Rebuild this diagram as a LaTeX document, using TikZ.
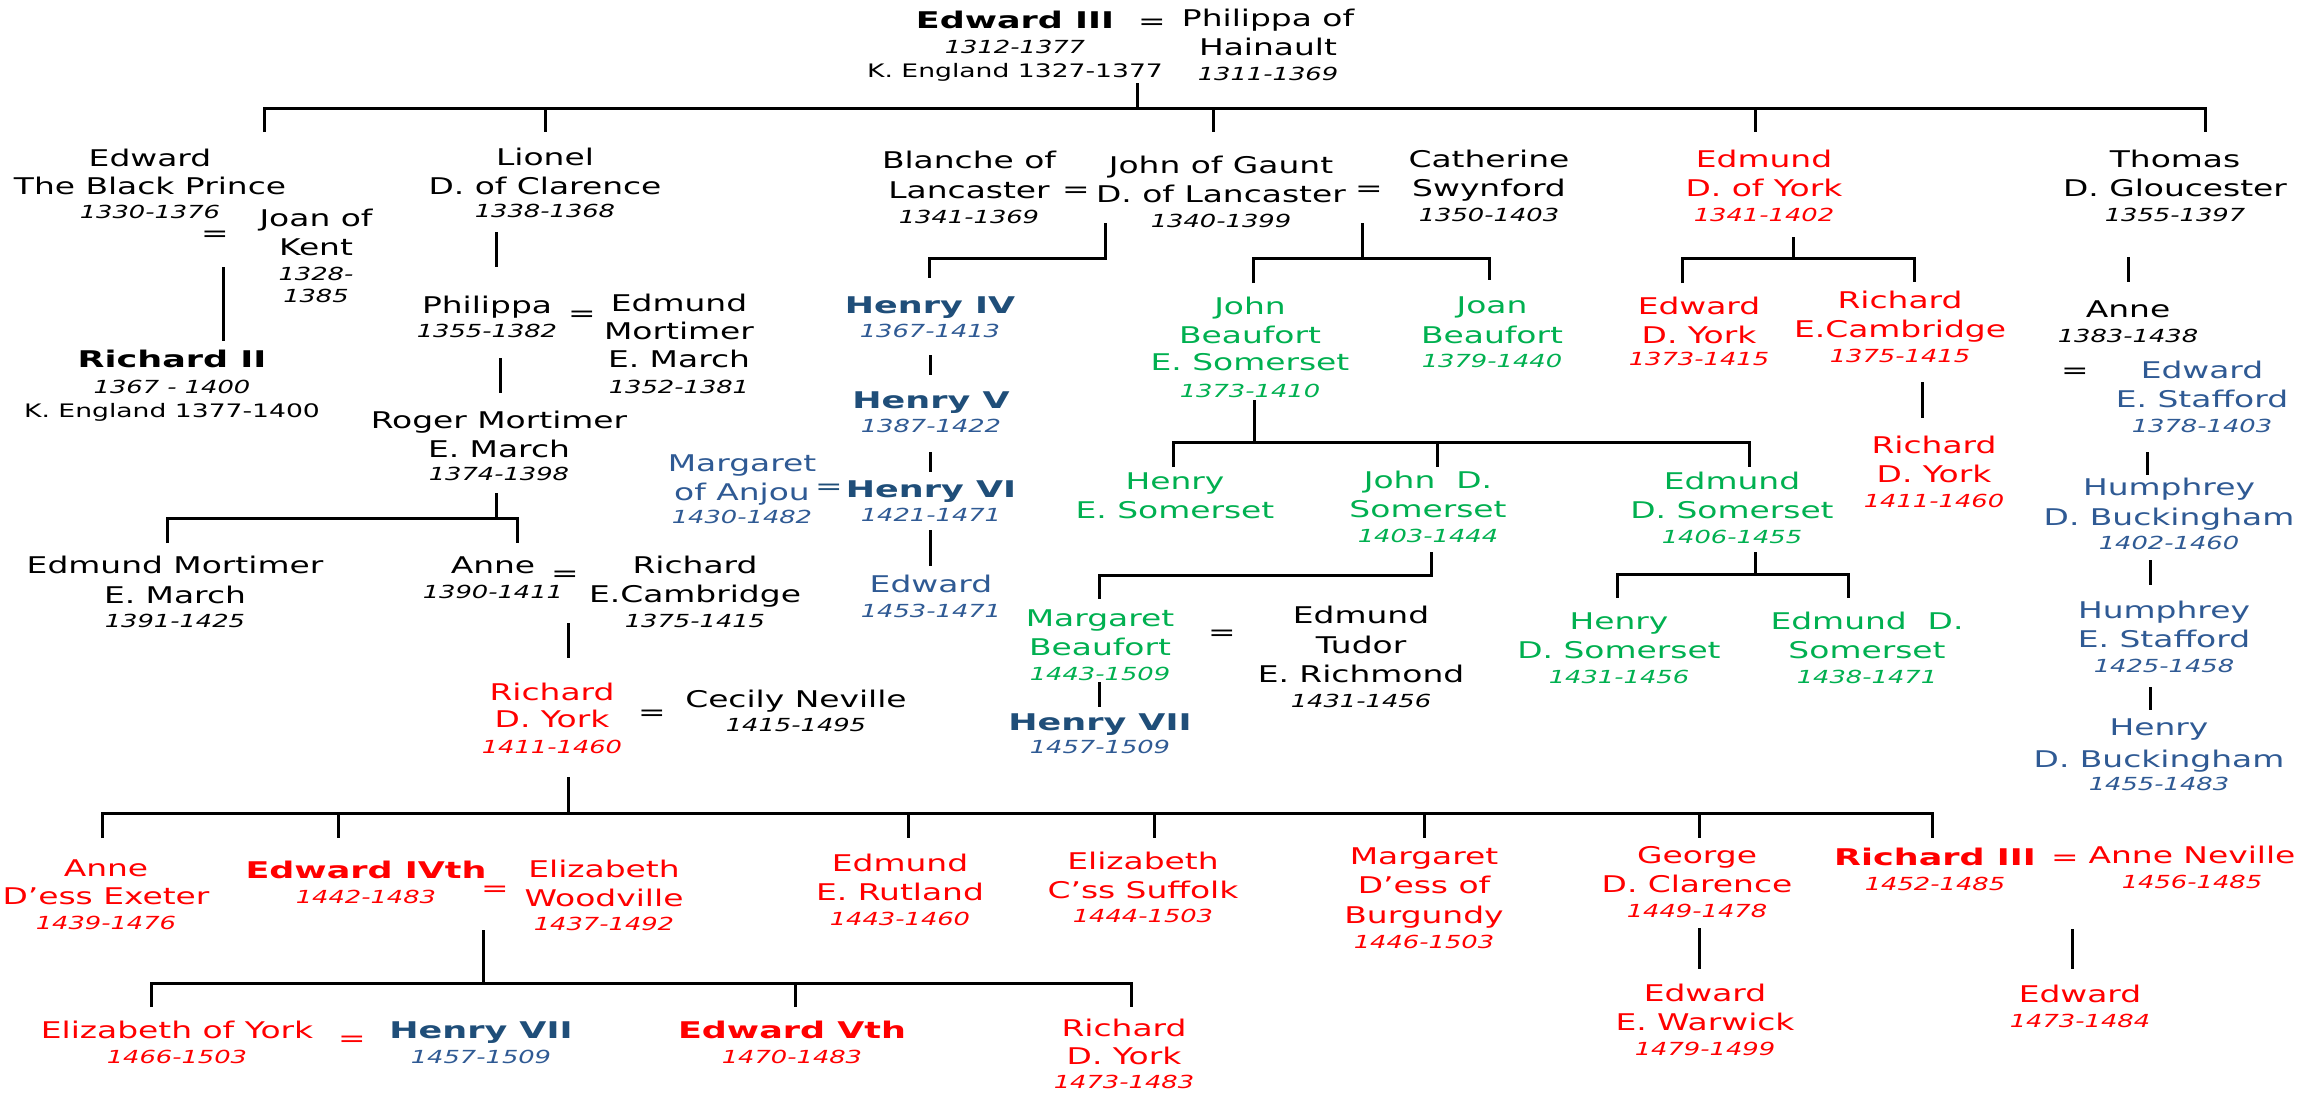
\documentclass[tikz,border=0pt]{standalone}
\usepackage{fontspec}
\setmainfont{DejaVu Sans}[FakeStretch=1.43, BoldFeatures={FakeStretch=1.52}, BoldItalicFeatures={FakeStretch=1.52}]
\definecolor{rd}{HTML}{FF0000}
\definecolor{gn}{HTML}{00B050}
\definecolor{bl}{HTML}{1F4E79}
\definecolor{bll}{HTML}{2F5A94}
\newcommand\yrs[1]{{\fontsize{18}{22}\selectfont\itshape #1}}
\newcommand\sml[1]{{\fontsize{18.6}{22}\selectfont #1}}
\begin{document}
\begin{tikzpicture}[x=1pt,y=-1pt,
  pp/.style={align=center, anchor=base, inner sep=0pt, font=\fontsize{23}{28.5}\selectfont},
  eqs/.style={anchor=base, inner sep=0pt, font=\fontsize{23}{28}\selectfont},
  tree/.style={line width=3pt, line join=miter, draw=black}]
\useasboundingbox (0,0) rectangle (2323,1095);
\fill[white] (0,0) rectangle (2323,1095);

% (node positions give the baseline of the LAST line of each node)
% ---------- generation 0
\node[pp] (e3) at (1015,77) {\textbf{Edward III}\\[-4pt]\yrs{1312-1377}\\[-4.5pt]\sml{K. England 1327-1377}};
\node[eqs] (eq1) at (1152,29) {=};
\node[pp] (phil) at (1268,80) {Philippa of\\Hainault\\[-3.5pt]\yrs{1311-1369}};

% ---------- generation 1
\node[pp] (bp) at (150,218) {Edward\\The Black Prince\\[-5pt]\yrs{1330-1376}};
\node[eqs] (eq2) at (215,241) {=};
\node[pp] (joan) at (316,302) {Joan of\\Kent\\[-3.5pt]\yrs{1328-}\\[-6.5pt]\yrs{1385}};
\node[pp] (r2) at (172,417) {\textbf{Richard II}\\[-2.5pt]\yrs{1367 - 1400}\\[-4.5pt]\sml{K. England 1377-1400}};

\node[pp] (lionel) at (545,217) {Lionel\\D. of Clarence\\[-5.5pt]\yrs{1338-1368}};
\node[pp] (philippa) at (487,337) {Philippa\\[-4.5pt]\yrs{1355-1382}};
\node[eqs] (eq3) at (582,321) {=};
\node[pp] (emort1) at (679,393) {Edmund\\Mortimer\\[-1pt]E. March\\[-2.5pt]\yrs{1352-1381}};
\node[pp] (roger) at (499,480) {Roger Mortimer\\[0.5pt]E. March\\[-5.5pt]\yrs{1374-1398}};
\node[pp] (emort2) at (175,627) {Edmund Mortimer\\[1.5pt]E. March\\[-4.5pt]\yrs{1391-1425}};
\node[pp] (anne1) at (493,598) {Anne\\[-3.5pt]\yrs{1390-1411}};
\node[eqs] (eq4) at (565,581) {=};
\node[pp] (rcam1) at (695,627) {Richard\\[0.5pt]E.Cambridge\\[-4pt]\yrs{1375-1415}};
\node[pp, text=rd] (rdy1) at (552,753) {Richard\\[-1.5pt]D. York\\[-2.5pt]\yrs{1411-1460}};
\node[eqs] (eq5) at (652,720) {=};
\node[pp] (cecily) at (796,731) {Cecily Neville\\[-4.5pt]\yrs{1415-1495}};

\node[pp, text=rd] (anne2) at (106,929) {Anne\\D’ess Exeter\\[-4pt]\yrs{1439-1476}};
\node[pp, text=rd] (e4) at (366,903) {\textbf{Edward IVth}\\[-3.5pt]\yrs{1442-1483}};
\node[eqs, text=rd] (eq6) at (495,896) {=};
\node[pp, text=rd] (ewood) at (604,930) {Elizabeth\\[0.5pt]Woodville\\[-5pt]\yrs{1437-1492}};
\node[pp, text=rd] (eyork) at (177,1063) {Elizabeth of York\\[-3.5pt]\yrs{1466-1503}};
\node[eqs, text=rd] (eq7) at (352,1046) {=};
\node[pp, text=bl] (h7b) at (481,1063) {\textbf{Henry VII}\\[-3.5pt]\color{bll}\yrs{1457-1509}};
\node[pp, text=rd] (e5) at (792,1063) {\textbf{Edward Vth}\\[-3.5pt]\yrs{1470-1483}};
\node[pp, text=rd] (rdy3) at (1124,1088) {Richard\\D. York\\[-5pt]\yrs{1473-1483}};
\node[pp, text=rd] (rutland) at (900,925) {Edmund\\E. Rutland\\[-3.5pt]\yrs{1443-1460}};
\node[pp, text=rd] (suffolk) at (1143,922) {Elizabeth\\C’ss Suffolk\\[-4.5pt]\yrs{1444-1503}};
\node[pp, text=rd] (burg) at (1424,948) {Margaret\\D’ess of\\[1.5pt]Burgundy\\[-3.5pt]\yrs{1446-1503}};
\node[pp, text=rd] (george) at (1697,917) {George\\D. Clarence\\[-3.5pt]\yrs{1449-1478}};
\node[pp, text=rd] (warwick) at (1705,1055) {Edward\\E. Warwick\\[-3.5pt]\yrs{1479-1499}};
\node[pp, text=rd] (r3) at (1935,890) {\textbf{Richard III}\\[-3.5pt]\yrs{1452-1485}};
\node[eqs, text=rd] (eq8) at (2065,865) {=};
\node[pp, text=rd] (aneville) at (2192,888) {Anne Neville\\[-3.5pt]\yrs{1456-1485}};
\node[pp, text=rd] (edr3) at (2080,1027) {Edward\\[-3.5pt]\yrs{1473-1484}};

% ---------- Lancaster
\node[pp] (blanche) at (969,223) {Blanche of\\[1.5pt]Lancaster\\[-3.5pt]\yrs{1341-1369}};
\node[eqs] (eq9) at (1076,197) {=};
\node[pp] (gaunt) at (1221,227) {John of Gaunt\\[0.5pt]D. of Lancaster\\[-3.5pt]\yrs{1340-1399}};
\node[eqs] (eq10) at (1369,196) {=};
\node[pp] (cath) at (1489,221) {Catherine\\[0.5pt]Swynford\\[-3.5pt]\yrs{1350-1403}};
\node[pp, text=bl] (h4) at (930,337) {\textbf{Henry IV}\\[-4.5pt]\color{bll}\yrs{1367-1413}};
\node[pp, text=gn] (jb) at (1250,397) {John\\Beaufort\\[-1.5pt]E. Somerset\\[-1.5pt]\yrs{1373-1410}};
\node[pp, text=gn] (joanb) at (1492,367) {Joan\\[1.5pt]Beaufort\\[-4.5pt]\yrs{1379-1440}};
\node[pp, text=bl] (h5) at (931,432) {\textbf{Henry V}\\[-4.5pt]\color{bll}\yrs{1387-1422}};
\node[pp, text=bl] (h6) at (931,521) {\textbf{Henry VI}\\[-4.5pt]\color{bll}\yrs{1421-1471}};
\node[eqs, text=bl] (eq11) at (829,494) {=};
\node[pp, text=bll] (manjou) at (742,523) {Margaret\\of Anjou\\[-5.5pt]\yrs{1430-1482}};
\node[pp, text=bll] (edh6) at (931,617) {Edward\\[-3.5pt]\yrs{1453-1471}};
\node[pp, text=gn] (hes) at (1175,518) {Henry\\E. Somerset};
\node[pp, text=gn] (jds) at (1428,542) {John~~D.\\[0.5pt]Somerset\\[-3.5pt]\yrs{1403-1444}};
\node[pp, text=gn] (eds1) at (1732,543) {Edmund\\D. Somerset\\[-3.5pt]\yrs{1406-1455}};
\node[pp, text=gn] (mbeau) at (1100,680) {Margaret\\Beaufort\\[-3.5pt]\yrs{1443-1509}};
\node[eqs] (eq12) at (1222,640) {=};
\node[pp] (tudor) at (1361,707) {Edmund\\[1.5pt]Tudor\\[0.5pt]E. Richmond\\[-3.5pt]\yrs{1431-1456}};
\node[pp, text=bl] (h7a) at (1100,753) {\textbf{Henry VII}\\[-5.5pt]\color{bll}\yrs{1457-1509}};
\node[pp, text=gn] (hds) at (1619,683) {Henry\\D. Somerset\\[-3.5pt]\yrs{1431-1456}};
\node[pp, text=gn] (eds2) at (1867,683) {Edmund~~D.\\Somerset\\[-3.5pt]\yrs{1438-1471}};

% ---------- York
\node[pp, text=rd] (edyork) at (1764,221) {Edmund\\[0.5pt]D. of York\\[-3.5pt]\yrs{1341-1402}};
\node[pp, text=rd] (edy) at (1699,365) {Edward\\D. York\\[-6.5pt]\yrs{1373-1415}};
\node[pp, text=rd] (rcam2) at (1900,362) {Richard\\[0.5pt]E.Cambridge\\[-3.5pt]\yrs{1375-1415}};
\node[pp, text=rd] (rdy2) at (1934,507) {Richard\\[0.5pt]D. York\\[-3.5pt]\yrs{1411-1460}};

% ---------- Gloucester
\node[pp] (thomas) at (2175,221) {Thomas\\[0.5pt]D. Gloucester\\[-3.5pt]\yrs{1355-1397}};
\node[pp] (anne3) at (2128,342) {Anne\\[-3.5pt]\yrs{1383-1438}};
\node[eqs] (eq13) at (2075,378) {=};
\node[pp, text=bll] (estaff) at (2202,432) {Edward\\[0.5pt]E. Stafford\\[-3.5pt]\yrs{1378-1403}};
\node[pp, text=bll] (hbuck) at (2169,549) {Humphrey\\[1.5pt]D. Buckingham\\[-4.5pt]\yrs{1402-1460}};
\node[pp, text=bll] (hstaff) at (2164,672) {Humphrey\\[0.5pt]E. Stafford\\[-3.5pt]\yrs{1425-1458}};
\node[pp, text=bll] (henbuck) at (2159,790) {Henry\\[3.5pt]D. Buckingham\\[-5.5pt]\yrs{1455-1483}};

% ---------- connector coordinates
\foreach \n/\x/\y in {
  a1/1137/83, a2/1137/108, b1/264/132, b2/264/108, b3/2205/108, b4/2205/132,
  c1/545/108, c2/545/132, c3/1213/108, c4/1213/132, c5/1755/108, c6/1755/132,
  d1/223/267, d2/223/341, d3/496/232, d4/496/267, d5/500/358, d6/500/393,
  f1/496/493, f2/496/518, f3/167/543, f4/167/518, f5/517/518, f6/517/543,
  g1/568/623, g2/568/658, g3/568/777, g4/568/813,
  h1/102/838, h2/102/813, h3/1932/813, h4/1932/838,
  k1/338/813, k2/338/838, k3/908/813, k4/908/838, k5/1154/813, k6/1154/838,
  k7/1424/813, k8/1424/838, k9/1699/813, k10/1699/838,
  m1/483/930, m2/483/983, m3/151/1007, m4/151/983, m5/1131/983, m6/1131/1007,
  m7/795/983, m8/795/1007,
  n1/1699/928, n2/1699/969, n3/2072/929, n4/2072/969,
  p1/1105/223, p2/1105/258, p3/929/258, p4/929/278,
  q1/1362/223, q2/1362/258, q3/1253/283, q4/1253/258, q5/1489/258, q6/1489/280,
  s1/930/355, s2/930/375, s3/930/452, s4/930/472, s5/930/530, s6/930/566,
  u1/1254/400, u2/1254/442, u3/1173/467, u4/1173/442, u5/1749/442, u6/1749/467,
  u7/1437/442, u8/1437/467,
  v1/1431/552, v2/1431/575, v3/1099/575, v4/1099/599, v5/1099/682, v6/1099/707,
  w1/1755/552, w2/1755/574, w3/1617/598, w4/1617/574, w5/1848/574, w6/1848/598,
  y1/1793/237, y2/1793/258, y3/1682/283, y4/1682/258, y5/1914/258, y6/1914/282,
  y7/1922/382, y8/1922/418,
  z1/2128/257, z2/2128/282, z3/2147/452, z4/2147/475, z5/2150/560, z6/2150/585,
  z7/2150/687, z8/2150/710}
  {\coordinate (\n) at (\x,\y);}

\draw[tree] (a1) -- (a2);
\draw[tree] (b1) -- (b2) -- (b3) -- (b4);
\draw[tree] (c1) -- (c2);
\draw[tree] (c3) -- (c4);
\draw[tree] (c5) -- (c6);
\draw[tree] (d1) -- (d2);
\draw[tree] (d3) -- (d4);
\draw[tree] (d5) -- (d6);
\draw[tree] (f1) -- (f2);
\draw[tree] (f3) -- (f4) -- (f5) -- (f6);
\draw[tree] (g1) -- (g2);
\draw[tree] (g3) -- (g4);
\draw[tree] (h1) -- (h2) -- (h3) -- (h4);
\draw[tree] (k1) -- (k2);
\draw[tree] (k3) -- (k4);
\draw[tree] (k5) -- (k6);
\draw[tree] (k7) -- (k8);
\draw[tree] (k9) -- (k10);
\draw[tree] (m1) -- (m2);
\draw[tree] (m3) -- (m4) -- (m5) -- (m6);
\draw[tree] (m7) -- (m8);
\draw[tree] (n1) -- (n2);
\draw[tree] (n3) -- (n4);
\draw[tree] (p1) -- (p2) -- (p3) -- (p4);
\draw[tree] (q1) -- (q2);
\draw[tree] (q3) -- (q4) -- (q5) -- (q6);
\draw[tree] (s1) -- (s2);
\draw[tree] (s3) -- (s4);
\draw[tree] (s5) -- (s6);
\draw[tree] (u1) -- (u2);
\draw[tree] (u3) -- (u4) -- (u5) -- (u6);
\draw[tree] (u7) -- (u8);
\draw[tree] (v1) -- (v2) -- (v3) -- (v4);
\draw[tree] (v5) -- (v6);
\draw[tree] (w1) -- (w2);
\draw[tree] (w3) -- (w4) -- (w5) -- (w6);
\draw[tree] (y1) -- (y2);
\draw[tree] (y3) -- (y4) -- (y5) -- (y6);
\draw[tree] (y7) -- (y8);
\draw[tree] (z1) -- (z2);
\draw[tree] (z3) -- (z4);
\draw[tree] (z5) -- (z6);
\draw[tree] (z7) -- (z8);
\end{tikzpicture}
\end{document}
